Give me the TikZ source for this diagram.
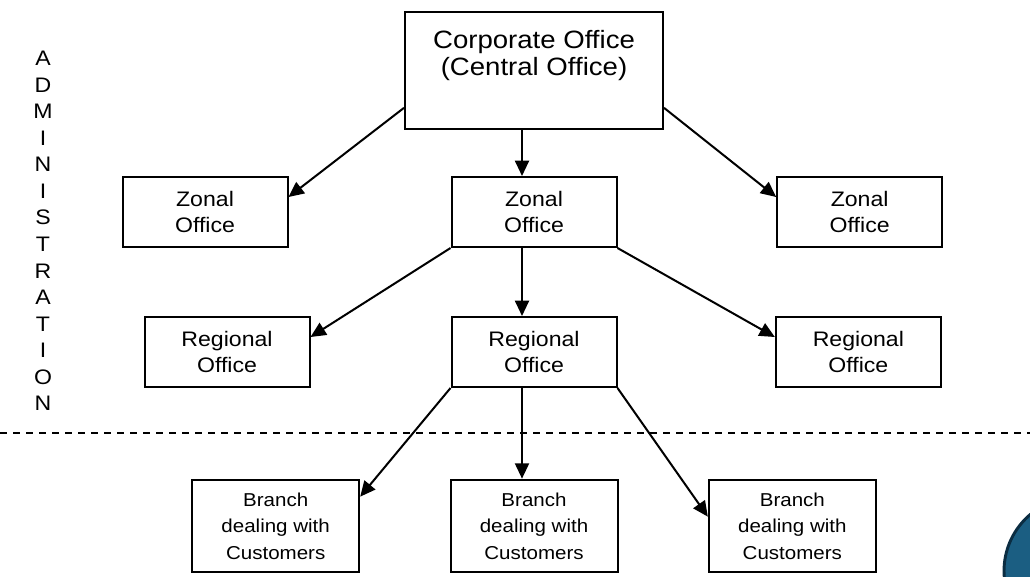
\documentclass[tikz,border=0pt]{standalone}
\usepackage{fontspec}
\setmainfont[FakeStretch=1.1]{Liberation Sans}
\usetikzlibrary{arrows.meta,positioning}
\definecolor{badgefill}{HTML}{1B5E82}
\definecolor{badgeline}{HTML}{0B2D42}

\begin{document}
\begin{tikzpicture}[
  x=0.75pt,
  y=-0.75pt,
  >={Triangle[length=11.5pt,width=10.5pt]},
  office/.style={
    draw=black,
    line width=1.5pt,
    align=center,
    inner sep=0pt,
    minimum width=123.75pt,
    minimum height=52.5pt,
    font=\fontsize{15.75}{19.5}\selectfont
  },
  corporate/.style={
    office,
    minimum width=193.5pt,
    minimum height=87.75pt,
    text depth=26pt,
    font=\fontsize{18.8}{20.25}\selectfont
  },
  branch/.style={
    office,
    minimum width=125.25pt,
    minimum height=69.5pt,
    font=\fontsize{14}{20}\selectfont
  },
  flow/.style={->,line width=1.5pt,draw=black},
  cutline/.style={line width=1.5pt,dash pattern=on 5.25pt off 4.5pt},
  sidelabel/.style={align=center,inner sep=0pt,font=\fontsize{15.75}{19.9}\selectfont},
  badge/.style={circle,fill=badgefill,draw=badgeline,line width=2.2pt,minimum size=111pt}
]
  \clip (0,0) rectangle (1030,576);

  % Administration levels.
  \node[corporate] (corp) at (534,70.5) {Corporate Office\\(Central Office)};

  \node[office,below=34.5pt of corp] (zmid) {Zonal\\Office};
  \node[office,left=121.5pt of zmid] (zleft) {Zonal\\Office};
  \node[office,right=119pt of zmid] (zright) {Zonal\\Office};

  \node[office,below=51pt of zmid] (rmid) {Regional\\Office};
  \node[office,left=105pt of rmid] (rleft) {Regional\\Office};
  \node[office,right=118pt of rmid] (rright) {Regional\\Office};

  \draw[flow] ([yshift=-28pt]corp.west) -- ([yshift=11.25pt]zleft.east);
  \draw[flow] ([xshift=-9pt]corp.south) -- ([xshift=-9pt]zmid.north);
  \draw[flow] ([yshift=-28pt]corp.east) -- ([yshift=11.25pt]zright.west);

  \draw[flow] (zmid.south west) -- ([yshift=11.25pt]rleft.east);
  \draw[flow] ([xshift=-9pt]zmid.south) -- ([xshift=-9pt]rmid.north);
  \draw[flow] (zmid.south east) -- ([yshift=11.25pt]rright.west);

  \node[sidelabel] (admin) at (43,231) {A\\D\\M\\I\\N\\I\\S\\T\\R\\A\\T\\I\\O\\N};

  % Boundary between administration and customer-facing branches.
  \coordinate (cutl) at (0,433);
  \coordinate (cutr) at (1030,433);
  \draw[cutline] (cutl) -- (cutr);

  \node[branch,below=68pt of rmid] (bmid) {Branch\\dealing with\\Customers};
  \node[branch,left=67pt of bmid] (bleft) {Branch\\dealing with\\Customers};
  \node[branch,right=67pt of bmid] (bright) {Branch\\dealing with\\Customers};

  \draw[flow] (rmid.south west) -- ([yshift=22pt]bleft.east);
  \draw[flow] ([xshift=-9pt]rmid.south) -- ([xshift=-9pt]bmid.north);
  \draw[flow] (rmid.south east) -- ([yshift=7pt]bright.west);

  \node[badge] (badge) at (1078,571) {};
\end{tikzpicture}
\end{document}
